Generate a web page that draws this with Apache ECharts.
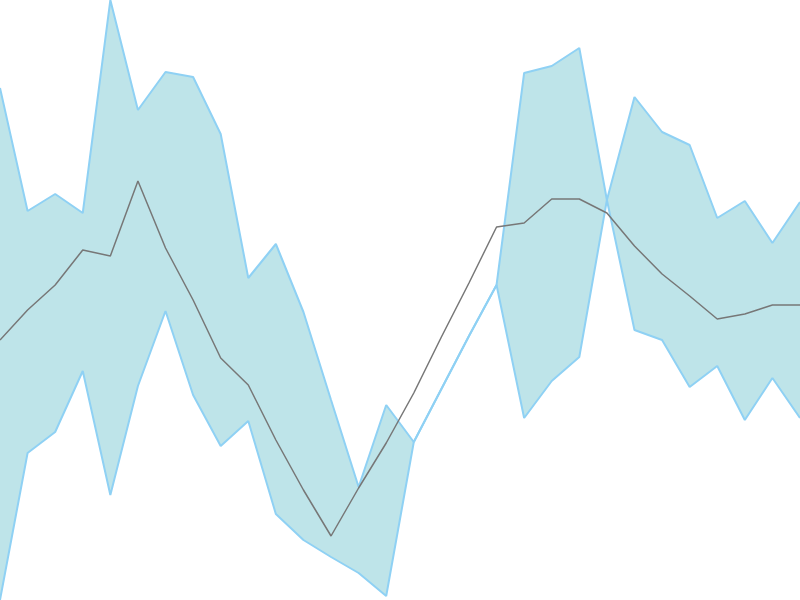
<!DOCTYPE html>
<html>
<head>
<meta charset="utf-8">
<script src="https://cdn.jsdelivr.net/npm/echarts@6/dist/echarts.min.js"></script>
<style>html,body{margin:0;padding:0;background:#fff}#c{width:800px;height:600px}</style>
</head>
<body>
<div id="c"></div>
<script>
const categories = Array.from({length: 30}, (_, i) => String(i + 1));
const midValues = [26.0, 29.0, 31.5, 35.0, 34.4, 41.9, 35.2, 30.0, 24.2, 21.5, 16.0, 11.0, 6.4, 11.2, 15.7, 20.7, 26.3, 31.7, 37.3, 37.7, 40.1, 40.1, 38.7, 35.4, 32.6, 30.4, 28.1, 28.6, 29.5, 29.5];
const bandA = [51.2, 38.9, 40.6, 38.7, 60.0, 49.0, 52.8, 52.3, 46.6, 32.2, 35.6, 28.8, 20.0, 11.3, 19.5, 15.8, 21.1, 26.4, 31.5, 52.7, 53.4, 55.2, 40.0, 27.0, 26.0, 21.3, 23.4, 18.0, 22.2, 18.2];
const bandB = [0.0, 14.7, 16.8, 22.9, 10.5, 21.4, 28.9, 20.5, 15.4, 17.9, 8.6, 6.0, 4.3, 2.7, 0.4, 15.8, 21.1, 26.4, 31.5, 18.2, 21.9, 24.3, 40.0, 50.3, 46.8, 45.5, 38.2, 39.9, 35.7, 39.8];
const bandDiff = bandA.map((v, i) => +(v - bandB[i]).toFixed(2));

const chart = echarts.init(document.getElementById('c'));
chart.setOption({
  animation: false,
  grid: {left: 0, right: 0, top: 0, bottom: 0},
  xAxis: {type: 'category', data: categories, boundaryGap: false, show: false},
  yAxis: {type: 'value', min: 0, max: 60, show: false},
  series: [
    {
      type: 'line', data: bandB, stack: 'band', stackStrategy: 'all',
      symbol: 'none', z: 3,
      lineStyle: {color: '#8fd1f4', width: 2}
    },
    {
      type: 'line', data: bandDiff, stack: 'band', stackStrategy: 'all',
      symbol: 'none', z: 2,
      lineStyle: {color: '#8fd1f4', width: 2},
      areaStyle: {color: '#bee4e9', opacity: 1}
    },
    {
      type: 'line', data: midValues, symbol: 'none', z: 4,
      lineStyle: {color: '#777777', width: 1.5}
    }
  ]
});
</script>
</body>
</html>
